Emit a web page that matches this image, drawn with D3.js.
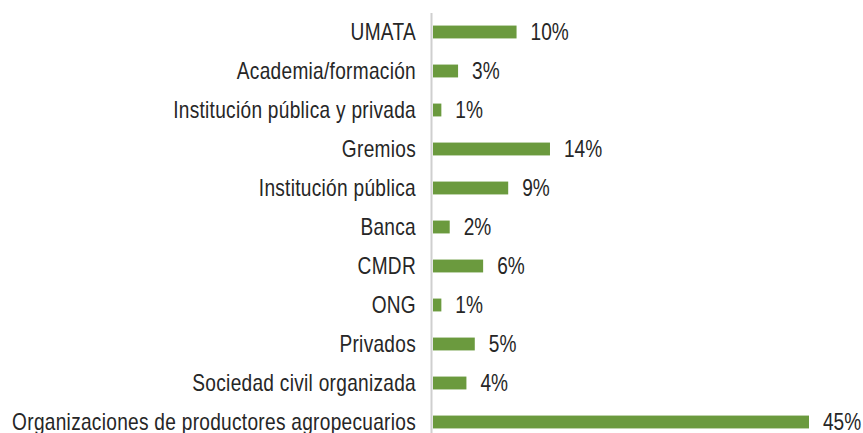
<!DOCTYPE html>
<html>
<head>
<meta charset="utf-8">
<script src="https://cdn.jsdelivr.net/npm/d3@7"></script>
<style>
  body { margin: 0; background: #fff; }
  text { font-family: "Liberation Sans", Arial, sans-serif; fill: #262626; }
</style>
</head>
<body>
<svg id="chart" width="863" height="433"></svg>
<script>
const categories = [
  "UMATA",
  "Academia/formación",
  "Institución pública y privada",
  "Gremios",
  "Institución pública",
  "Banca",
  "CMDR",
  "ONG",
  "Privados",
  "Sociedad civil organizada",
  "Organizaciones de productores agropecuarios"
];
const values = [10, 3, 1, 14, 9, 2, 6, 1, 5, 4, 45];

const svg = d3.select("#chart");
const x0 = 433;
const narrow = 0.83; // squeeze to look like Arial Narrow

const x = d3.scaleLinear().domain([0, 45]).range([x0, 809]);
const y = d3.scaleBand().domain(categories).range([12.5, 441.5]).paddingInner(0.67).paddingOuter(0.335);

// axis line
svg.append("line")
  .attr("x1", 431.5).attr("x2", 431.5)
  .attr("y1", 13).attr("y2", 433)
  .attr("stroke", "#cfcfcf")
  .attr("stroke-width", 2);

svg.append("g").selectAll("rect")
  .data(categories)
  .enter().append("rect")
  .attr("x", x0)
  .attr("y", (d) => y(d))
  .attr("width", (d, i) => x(values[i]) - x0)
  .attr("height", y.bandwidth())
  .attr("fill", "#6b9a3e");

// category labels
svg.append("g").selectAll("text")
  .data(categories)
  .enter().append("text")
  .attr("transform", (d) => `translate(416,${y(d) + y.bandwidth() / 2}) scale(${narrow},1)`)
  .attr("dy", "0.33em")
  .attr("text-anchor", "end")
  .attr("font-size", 23)
  .attr("letter-spacing", 0.35)
  .text((d) => d);

// value labels
svg.append("g").selectAll("text")
  .data(categories)
  .enter().append("text")
  .attr("transform", (d, i) => `translate(${x(values[i]) + 14},${y(d) + y.bandwidth() / 2}) scale(${narrow},1)`)
  .attr("dy", "0.33em")
  .attr("font-size", 23)
  .text((d, i) => values[i] + "%");
</script>
</body>
</html>
